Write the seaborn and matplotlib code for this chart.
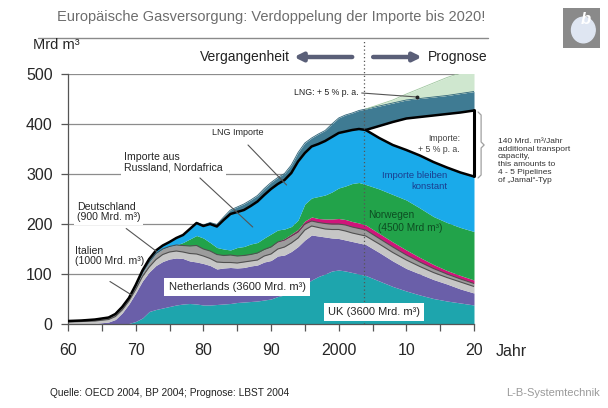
import numpy as np
import matplotlib
matplotlib.use("Agg")
import matplotlib.pyplot as plt
import seaborn as sns

# years
years = [1960, 1962, 1964, 1966, 1967, 1968, 1969, 1970, 1971, 1972, 1973, 1974,
         1975, 1976, 1977, 1978, 1979, 1980, 1981, 1982, 1983, 1984, 1985, 1986,
         1987, 1988, 1989, 1990, 1991, 1992, 1993, 1994, 1995, 1996, 1997, 1998,
         1999, 2000, 2001, 2002, 2003, 2004, 2006, 2008, 2010, 2012, 2014, 2016,
         2018, 2020]

# upper edge of each stacked layer (Mrd m3), bottom to top
uk_top = [0, 0, 0, 0, 0, 0, 1, 5, 12, 25, 29, 32, 35, 38, 40, 41, 40, 38, 38, 39,
          40, 41, 43, 44, 45, 46, 48, 50, 55, 58, 64, 70, 78, 88, 95, 100, 106, 108,
          106, 103, 100, 97, 86, 75, 66, 58, 51, 46, 42, 38]
nl_top = [0, 0, 1, 4, 9, 22, 40, 62, 86, 104, 117, 125, 130, 132, 131, 126, 124,
          121, 117, 110, 112, 113, 112, 113, 116, 118, 124, 127, 136, 138, 145, 155,
          168, 178, 176, 174, 172, 171, 168, 165, 162, 159, 143, 126, 111, 100, 89,
          80, 70, 62]
it_top = [4, 5, 6, 9, 15, 28, 46, 69, 95, 114, 129, 139, 144, 146, 144, 141, 140,
          136, 131, 124, 123, 123, 122, 124, 126, 128, 136, 140, 150, 154, 162, 172,
          188, 196, 193, 190, 189, 189, 186, 182, 179, 176, 160, 143, 128, 115, 103,
          93, 84, 75]
de_top = [6, 7, 9, 13, 20, 34, 52, 76, 103, 124, 141, 150, 155, 158, 157, 156, 157,
          150, 146, 139, 137, 138, 136, 137, 139, 142, 149, 154, 164, 168, 176, 184,
          200, 206, 203, 201, 200, 200, 198, 194, 191, 188, 171, 154, 138, 124, 111,
          100, 90, 81]
dk_top = [6, 7, 9, 13, 20, 34, 52, 76, 103, 124, 141, 150, 155, 158, 157, 156, 157,
          150, 146, 139, 137, 138, 136, 137, 139, 142, 149, 154, 165, 171, 180, 189,
          206, 214, 211, 210, 210, 211, 209, 205, 202, 198, 181, 164, 148, 133, 119,
          107, 97, 88]
no_top = [6, 7, 9, 13, 20, 34, 52, 76, 103, 124, 141, 150, 155, 158, 163, 170, 177,
          172, 163, 153, 150, 148, 153, 155, 160, 163, 172, 180, 188, 190, 195, 208,
          240, 252, 255, 258, 264, 272, 276, 281, 283, 279, 270, 259, 248, 232, 215,
          203, 193, 185]
ru_top = [6, 7, 9, 13, 20, 34, 52, 78, 107, 130, 147, 157, 164, 172, 178, 190, 202,
          196, 200, 195, 208, 220, 224, 228, 236, 245, 258, 270, 280, 288, 302, 325,
          342, 355, 360, 366, 374, 382, 385, 388, 390, 388, 372, 358, 348, 337, 324,
          313, 303, 295]
add_top = ru_top[:42] + [396, 404, 411, 414, 417, 420, 423, 427]
lng_top = [6, 7, 9, 13, 20, 34, 52, 78, 107, 130, 147, 157, 164, 172, 178, 190, 203,
           198, 203, 199, 214, 228, 234, 240, 248, 257, 271, 283, 293, 301, 318, 343,
           362, 372, 380, 387, 400, 412, 418, 422, 427, 430, 436, 442, 448, 451, 454,
           457, 461, 465]
lng5_top = lng_top[:42] + [439, 448, 460, 471, 482, 493, 502, 510]

y_ticks = [0, 100, 200, 300, 400, 500]
x_major = [1960, 1970, 1980, 1990, 2000, 2010, 2020]
x_labels = ["60", "70", "80", "90", "2000", "10", "20"]
forecast_start = 2003.7

sns.set_theme(style="white")
plt.rcParams["font.family"] = ["Liberation Sans", "DejaVu Sans"]

W, H = 608, 408
fig = plt.figure(figsize=(W / 100, H / 100), dpi=100)
ax = fig.add_axes([68 / W, 1 - 324 / H, 406 / W, 250 / H])

yrs = np.array(years)
zero = np.zeros(len(years))
layers = [
    (zero, uk_top, "#1ea5ad"),
    (uk_top, nl_top, "#6a5fa9"),
    (nl_top, it_top, "#c6c6c6"),
    (it_top, de_top, "#9c9c9c"),
    (de_top, dk_top, "#d0157a"),
    (dk_top, no_top, "#22a34a"),
    (no_top, ru_top, "#1aaaea"),
    (ru_top, add_top, "white"),
    (add_top, lng_top, "#3f7b93"),
    (lng_top, lng5_top, "#cfe7cf"),
]
for lo, hi, col in layers:
    ax.fill_between(yrs, lo, hi, color=col, lw=0, zorder=2)

# grid
for v in y_ticks[1:]:
    ax.axhline(v, color="#8c8c8c", lw=0.9, zorder=0.5)

# thin edges on the grey layers
for edge in [it_top, de_top]:
    sns.lineplot(x=yrs, y=edge, color="#505050", lw=0.8, ax=ax, zorder=3)
sns.lineplot(x=yrs, y=lng_top, color="#2f6478", lw=0.6, ax=ax, zorder=3)
sns.lineplot(x=yrs[41:], y=np.array(lng5_top[41:]), color="#9fc79f", lw=0.6, ax=ax, zorder=3)

# black outlines
sns.lineplot(x=yrs, y=ru_top, color="black", lw=1.8, ax=ax, zorder=4)
sns.lineplot(x=yrs[41:], y=np.array(add_top[41:]), color="black", lw=1.8, ax=ax, zorder=4)
ax.plot([2020, 2020], [ru_top[-1], add_top[-1]], color="black", lw=2.2, zorder=4,
        clip_on=False)

# forecast divider
ax.plot([forecast_start, forecast_start], [0, 565], ls=(0, (1, 2)), color="#555555",
        lw=0.9, zorder=5, clip_on=False)

ax.set_xlim(1960, 2020)
ax.set_ylim(0, 500)
ax.set_yticks(y_ticks)
ax.set_yticklabels([str(v) for v in y_ticks], fontsize=11.5)
ax.set_xticks(x_major)
ax.set_xticklabels(x_labels, fontsize=11.5)
ax.set_xticks(np.arange(1960, 2021, 5), minor=True)
ax.tick_params(axis="both", which="both", direction="out", length=5, width=0.9,
               color="#555555", pad=6)
ax.tick_params(axis="x", which="both", bottom=True, pad=9)
ax.tick_params(axis="y", left=True)
for s in ["top", "right"]:
    ax.spines[s].set_visible(False)
for s in ["left", "bottom"]:
    ax.spines[s].set_color("#555555")
    ax.spines[s].set_linewidth(0.9)
ax.set_xlabel("")
ax.set_ylabel("")

# annotations inside the chart (label boxes sit above the grid, below the areas)
box = dict(facecolor="white", edgecolor="none", pad=2)
pointer = dict(color="#555555", lw=0.8, zorder=6)
ax.text(1985.1, 382, "LNG Importe", fontsize=6.5, ha="center", va="center", zorder=6)
ax.plot([1986.6, 1992.3], [358, 278], **pointer)
ax.text(1968.3, 323, "Importe aus\nRussland, Nordafrica", fontsize=7.6, ha="left",
        va="center", bbox=box, zorder=1.5, linespacing=1.1)
ax.plot([1979.5, 1987.3], [292, 194], **pointer)
ax.text(1961.3, 224, "Deutschland\n(900 Mrd. m³)", fontsize=7.6, ha="left",
        va="center", bbox=box, zorder=1.5, linespacing=1.1)
ax.plot([1968.6, 1973.1], [191, 145], **pointer)
ax.text(1961.0, 136, "Italien\n(1000 Mrd. m³)", fontsize=7.6, ha="left",
        va="center", bbox=box, zorder=1.5, linespacing=1.1)
ax.plot([1966.2, 1969.4], [85, 58], **pointer)
ax.text(1985.0, 74, "Netherlands (3600 Mrd. m³)", fontsize=8, ha="center",
        va="center", bbox=dict(facecolor="white", edgecolor="none", pad=3), zorder=6)
ax.text(2005.2, 24, "UK (3600 Mrd. m³)", fontsize=8, ha="center", va="center",
        bbox=dict(facecolor="white", edgecolor="none", pad=3), zorder=6)
ax.text(2004.3, 218, "Norwegen", fontsize=7.3, color="#0d4d22", ha="left",
        va="center", zorder=6)
ax.text(2005.8, 192, "(4500 Mrd m³)", fontsize=7.3, color="#0d4d22", ha="left",
        va="center", zorder=6)
ax.text(2016.1, 286, "Importe bleiben\nkonstant", fontsize=6.8, color="#1b3d8f",
        ha="right", va="center", zorder=6, linespacing=1.2, multialignment="right")
ax.text(2017.9, 360, "Importe:\n+ 5 % p. a.", fontsize=6.3, color="#444444",
        ha="right", va="center", zorder=6, linespacing=1.2, multialignment="right")
ax.text(2002.9, 462, "LNG: + 5 % p. a.", fontsize=6.3, color="#222222", ha="right",
        va="center", zorder=6)
ax.plot([2003.4, 2011.6], [462, 454], **pointer)
ax.plot([2011.6], [454], marker="o", ms=1.8, color="#222222", zorder=6)

# brace next to the extra imports
bx, btop, bbot = 2020.6, 424, 292
bmid = (btop + bbot) / 2
ax.plot([bx, bx + 0.45, bx + 0.45, bx + 0.9, bx + 0.45, bx + 0.45, bx],
        [btop, btop - 6, bmid + 6, bmid, bmid - 6, bbot + 6, bbot],
        color="#a0a0a0", lw=0.9, clip_on=False)

# arrows above the chart
arrow = dict(arrowstyle="-|>", lw=3.2, color="#5a5f78", mutation_scale=12,
             shrinkA=0, shrinkB=0)
ax.annotate("", xy=(1993.4, 534), xytext=(2002.0, 534), arrowprops=arrow,
            annotation_clip=False)
ax.annotate("", xy=(2012.3, 534), xytext=(2005.1, 534), arrowprops=arrow,
            annotation_clip=False)
fig.text(290 / W, 1 - 57 / H, "Vergangenheit", fontsize=10, ha="right", va="center",
         color="#222222")
fig.text(428 / W, 1 - 57 / H, "Prognose", fontsize=10, ha="left", va="center",
         color="#222222")

# title and surrounding texts
fig.text(271 / W, 1 - 17 / H, "Europäische Gasversorgung: Verdoppelung der Importe bis 2020!",
         fontsize=10.5, ha="center", va="center", color="#6d6d6d")
fig.add_artist(plt.Line2D([38 / W, 488 / W], [1 - 38 / H, 1 - 38 / H], color="#8a8a8a",
                          lw=1.0))
fig.text(33 / W, 1 - 45 / H, "Mrd m³", fontsize=10.5, ha="left", va="center")
fig.text(496 / W, 1 - 352 / H, "Jahr", fontsize=11.5, ha="left", va="center")
fig.text(498 / W, 1 - 138 / H,
         "140 Mrd. m³/Jahr\nadditional transport\ncapacity,\nthis amounts to\n"
         "4 - 5 Pipelines\nof \u201eJamal\u201c-Typ",
         fontsize=6, ha="left", va="top", color="#333333", linespacing=1.15)
fig.text(50 / W, 1 - 393 / H, "Quelle: OECD 2004, BP 2004; Prognose: LBST 2004",
         fontsize=7.3, ha="left", va="center", color="#222222")
fig.text(600 / W, 1 - 393 / H, "L-B-Systemtechnik", fontsize=8, ha="right",
         va="center", color="#9a9a9a")

# logo box top right
logo = fig.add_axes([563 / W, 1 - 48 / H, 37 / W, 40 / H])
logo.set_facecolor("#8a8a8a")
logo.set_xticks([])
logo.set_yticks([])
for s in logo.spines.values():
    s.set_visible(False)
logo.add_patch(plt.Circle((0.55, 0.45), 0.32, color="#dfe6f2"))
logo.text(0.62, 0.72, "b", fontsize=12, style="italic", color="white", ha="center",
          va="center", fontweight="bold")
logo.set_xlim(0, 1)
logo.set_ylim(0, 1)

fig.savefig("out.png", dpi=100)
